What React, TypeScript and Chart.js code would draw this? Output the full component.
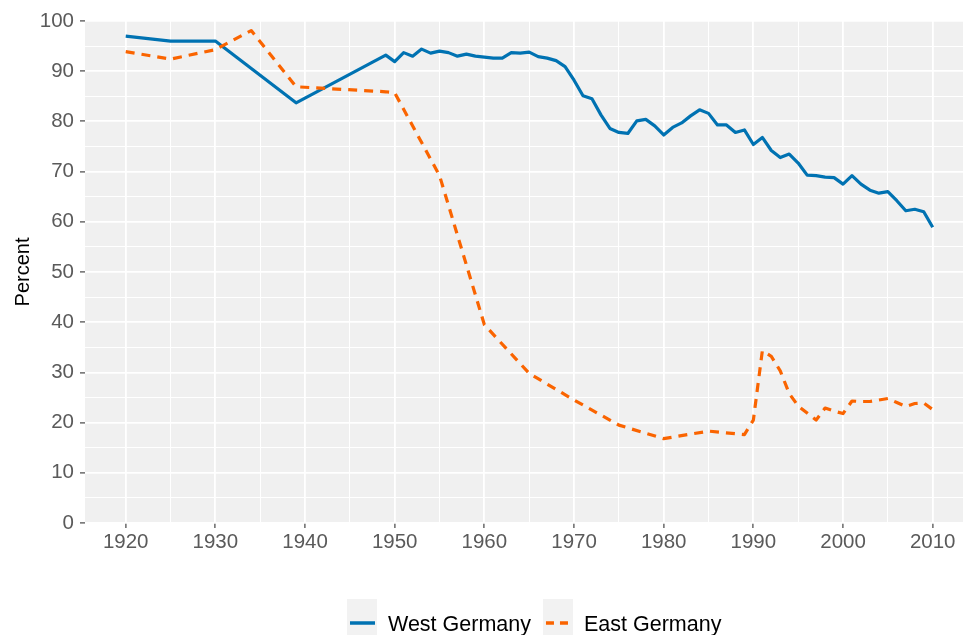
import React, { useEffect, useRef } from 'react';
import { Chart, registerables } from 'chart.js';

Chart.register(...registerables);

// ---- data ----
const seriesNames = ['West Germany', 'East Germany'];
const seriesColors = ['#0072B2', '#FA6400'];

const westYears = [
  1920, 1925, 1930, 1939, 1949, 1950, 1951, 1952, 1953, 1954, 1955, 1956, 1957, 1958, 1959,
  1960, 1961, 1962, 1963, 1964, 1965, 1966, 1967, 1968, 1969, 1970, 1971, 1972, 1973, 1974,
  1975, 1976, 1977, 1978, 1979, 1980, 1981, 1982, 1983, 1984, 1985, 1986, 1987, 1988, 1989,
  1990, 1991, 1992, 1993, 1994, 1995, 1996, 1997, 1998, 1999, 2000, 2001, 2002, 2003, 2004,
  2005, 2006, 2007, 2008, 2009, 2010,
];
const westValues = [
  97.0, 96.0, 96.0, 83.7, 93.2, 91.9, 93.7, 93.0, 94.4, 93.6, 94.0, 93.7, 93.0, 93.4, 93.0,
  92.8, 92.6, 92.6, 93.7, 93.6, 93.8, 92.9, 92.6, 92.1, 90.9, 88.2, 85.1, 84.5, 81.3, 78.6,
  77.8, 77.6, 80.1, 80.4, 79.1, 77.3, 78.8, 79.7, 81.1, 82.3, 81.6, 79.3, 79.3, 77.8, 78.3,
  75.4, 76.8, 74.2, 72.8, 73.5, 71.7, 69.3, 69.2, 68.9, 68.8, 67.5, 69.2, 67.5, 66.3, 65.7,
  66.0, 64.2, 62.2, 62.5, 62.0, 58.9,
];

const eastYears = [
  1920, 1925, 1930, 1934, 1939, 1949, 1950, 1955, 1960, 1965, 1970, 1975, 1980, 1985, 1989,
  1990, 1991, 1992, 1993, 1994, 1995, 1996, 1997, 1998, 1999, 2000, 2001, 2002, 2003, 2004,
  2005, 2006, 2007, 2008, 2009, 2010,
];
const eastValues = [
  93.9, 92.4, 94.3, 98.1, 86.9, 85.9, 85.7, 69.2, 39.5, 29.8, 24.5, 19.5, 16.8, 18.3, 17.6,
  20.5, 34.3, 33.2, 30.3, 25.8, 23.3, 21.9, 20.5, 22.9, 22.3, 21.8, 24.3, 24.2, 24.2, 24.5,
  24.8, 24.0, 23.2, 23.8, 23.9, 22.6,
];

const xTicks = [
  1920, 1925, 1930, 1935, 1940, 1945, 1950, 1955, 1960, 1965, 1970, 1975, 1980, 1985, 1990,
  1995, 2000, 2005, 2010,
];
const yTicks = [0, 5, 10, 15, 20, 25, 30, 35, 40, 45, 50, 55, 60, 65, 70, 75, 80, 85, 90, 95, 100];
const xMin = 1915.46;
const xMax = 2013.38;
const yTitle = 'Percent';

const FONT = '"Liberation Sans", Arial, Helvetica, sans-serif';
const TICK_COLOR = '#5a5a5a';

export default function App() {
  const ref = useRef<HTMLCanvasElement | null>(null);

  useEffect(() => {
    const canvas = ref.current;
    if (!canvas) return;

    const isMajor = (ctx: any) => ctx && ctx.tick && Math.round(ctx.tick.value) % 10 === 0;

    const decor = {
      id: 'decor',
      beforeDraw(chart: any) {
        const { ctx, chartArea: a } = chart;
        ctx.save();
        ctx.fillStyle = '#F0F0F0';
        ctx.fillRect(a.left, a.top, a.right - a.left, a.bottom - a.top);
        ctx.restore();
      },
      afterDraw(chart: any) {
        const { ctx, chartArea: a } = chart;
        // y-axis title
        ctx.save();
        ctx.translate(29, (a.top + a.bottom) / 2);
        ctx.rotate(-Math.PI / 2);
        ctx.font = `20px ${FONT}`;
        ctx.fillStyle = '#000';
        ctx.textAlign = 'center';
        ctx.textBaseline = 'alphabetic';
        ctx.fillText(yTitle, 0, 0);
        ctx.restore();

        // legend
        ctx.save();
        ctx.font = `21.5px ${FONT}`;
        let x = 347;
        const top = 599;
        const lineY = 623;
        seriesNames.forEach((name, i) => {
          ctx.fillStyle = '#F2F2F2';
          ctx.fillRect(x, top, 30, 40);
          ctx.beginPath();
          ctx.strokeStyle = seriesColors[i];
          ctx.lineWidth = 3.5;
          ctx.lineCap = 'butt';
          if (i === 1) {
            ctx.setLineDash([8, 6]);
            ctx.moveTo(x + 3, lineY);
            ctx.lineTo(x + 25, lineY);
          } else {
            ctx.setLineDash([]);
            ctx.moveTo(x + 3, lineY);
            ctx.lineTo(x + 28, lineY);
          }
          ctx.stroke();
          ctx.setLineDash([]);
          ctx.fillStyle = '#000';
          ctx.textAlign = 'left';
          ctx.textBaseline = 'alphabetic';
          ctx.fillText(name, x + 41, 630.5);
          const w = ctx.measureText(name).width;
          x = x + 41 + w + 12;
        });
        ctx.restore();
      },
    };

    const chart = new Chart(canvas, {
      type: 'line',
      data: {
        datasets: [
          {
            label: seriesNames[0],
            data: westYears.map((x, i) => ({ x, y: westValues[i] })),
            borderColor: seriesColors[0],
            backgroundColor: seriesColors[0],
            borderWidth: 3.2,
            pointRadius: 0,
            tension: 0,
            fill: false,
            borderJoinStyle: 'round',
            order: 1,
          },
          {
            label: seriesNames[1],
            data: eastYears.map((x, i) => ({ x, y: eastValues[i] })),
            borderColor: seriesColors[1],
            backgroundColor: seriesColors[1],
            borderWidth: 3.2,
            borderDash: [9, 7],
            pointRadius: 0,
            tension: 0,
            fill: false,
            borderJoinStyle: 'round',
            order: 0,
          },
        ],
      },
      options: {
        animation: false,
        responsive: false,
        devicePixelRatio: 1,
        events: [],
        layout: { padding: { top: 21, right: 0, bottom: 72, left: 0 } },
        plugins: {
          legend: { display: false },
          tooltip: { enabled: false },
          title: { display: false },
        },
        scales: {
          x: {
            type: 'linear',
            min: xMin,
            max: xMax,
            afterBuildTicks: (s: any) => {
              s.ticks = xTicks.map((v) => ({ value: v }));
            },
            afterFit: (s: any) => {
              s.height = 40;
            },
            ticks: {
              autoSkip: false,
              maxRotation: 0,
              minRotation: 0,
              padding: 2,
              color: TICK_COLOR,
              font: { family: FONT, size: 20.5 },
              callback: (v: any) => (Math.round(v) % 10 === 0 ? String(v) : ''),
            },
            grid: {
              color: '#FFFFFF',
              lineWidth: (c: any) => (isMajor(c) ? 1.8 : 1.0),
              tickColor: (c: any) => (isMajor(c) ? '#444444' : 'rgba(0,0,0,0)'),
              tickLength: 5,
              tickWidth: 1.2,
              drawTicks: true,
            },
            border: { display: false },
          },
          y: {
            type: 'linear',
            min: 0,
            max: 100,
            afterBuildTicks: (s: any) => {
              s.ticks = yTicks.map((v) => ({ value: v }));
            },
            afterFit: (s: any) => {
              s.width = 85;
            },
            ticks: {
              autoSkip: false,
              padding: 6,
              color: TICK_COLOR,
              font: { family: FONT, size: 20.5 },
              callback: (v: any) => (Math.round(v) % 10 === 0 ? String(v) : ''),
            },
            grid: {
              color: '#FFFFFF',
              lineWidth: (c: any) => (isMajor(c) ? 1.8 : 1.0),
              tickColor: (c: any) => (isMajor(c) ? '#444444' : 'rgba(0,0,0,0)'),
              tickLength: 5,
              tickWidth: 1.2,
              drawTicks: true,
            },
            border: { display: false },
          },
        },
      },
      plugins: [decor],
    } as any);

    return () => {
      chart.destroy();
    };
  }, []);

  return (
    <div style={{ position: 'fixed', left: 0, top: 0, width: 963, height: 635, background: '#fff' }}>
      <canvas ref={ref} width={963} height={635} style={{ display: 'block', width: 963, height: 635 }} />
    </div>
  );
}
